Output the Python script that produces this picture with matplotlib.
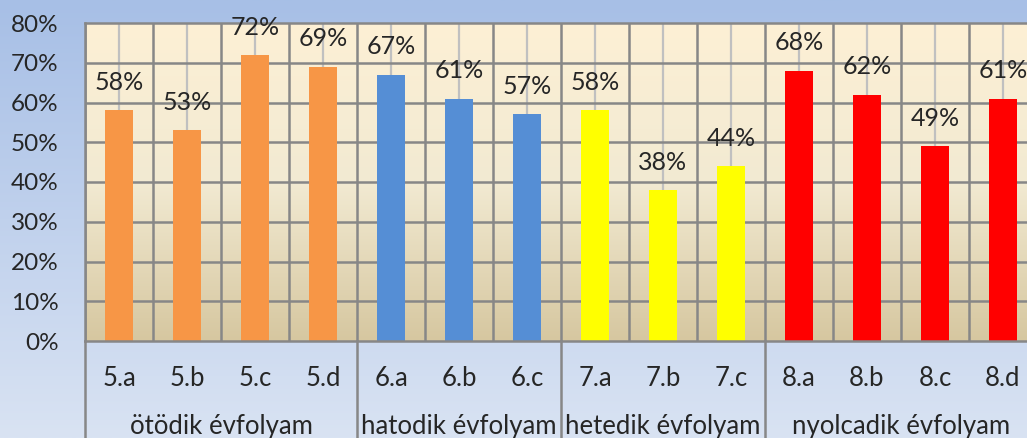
import numpy as np
import matplotlib.pyplot as plt
from matplotlib.colors import LinearSegmentedColormap
import matplotlib.transforms as mtransforms

plt.rcParams['font.family'] = ['Lato', 'DejaVu Sans']

classes = ['5.a', '5.b', '5.c', '5.d', '6.a', '6.b', '6.c',
           '7.a', '7.b', '7.c', '8.a', '8.b', '8.c', '8.d']
values = [58, 53, 72, 69, 67, 61, 57, 58, 38, 44, 68, 62, 49, 61]
groups = ['ötödik évfolyam', 'hatodik évfolyam', 'hetedik évfolyam', 'nyolcadik évfolyam']
group_sizes = [4, 3, 3, 4]
group_colors = ['#f79646', '#558ed5', '#ffff00', '#ff0000']

W, H = 1027, 438
fig = plt.figure(figsize=(W / 100, H / 100), dpi=100)

# figure background gradient (blue)
bg = fig.add_axes([0, 0, 1, 1], zorder=-10)
bg_cmap = LinearSegmentedColormap.from_list('bg', ['#a7bfe6', '#d9e3f3'])
bg.imshow(np.linspace(0, 1, 256).reshape(-1, 1), aspect='auto', cmap=bg_cmap,
          extent=[0, 1, 0, 1], origin='upper')
bg.axis('off')

# plot area
left, right, top, bottom = 85, 1037, 23, 341
ax = fig.add_axes([left / W, (H - bottom) / H, (right - left) / W, (bottom - top) / H])
n = len(classes)
x = np.arange(n)
ax.set_xlim(-0.5, n - 0.5)
ax.set_ylim(0, 80)

pa_cmap = LinearSegmentedColormap.from_list('pa', ['#d6c7a0', '#f2ead2', '#fdf0d5'])
ax.imshow(np.linspace(0, 1, 256).reshape(-1, 1), aspect='auto', cmap=pa_cmap,
          extent=[-0.5, n - 0.5, 0, 80], origin='lower', zorder=0)

bar_colors = []
for c, s in zip(group_colors, group_sizes):
    bar_colors += [c] * s

# light gray lines through bar centres
ax.vlines(x, 0, 80, color='#c0c0c0', lw=1.6, zorder=1)
# dark grid
for yv in range(10, 80, 10):
    ax.axhline(yv, color='#878787', lw=1.8, zorder=1)
for xv in np.arange(-0.5, n, 1.0):
    ax.axvline(xv, color='#878787', lw=1.8, zorder=1)

ax.bar(x, values, width=0.42, color=bar_colors, zorder=2)

for xi, v in zip(x, values):
    ax.annotate(f'{v}%', (xi, v), xytext=(0, 20), textcoords='offset points',
                ha='center', va='center', fontsize=18, color='#262626',
                zorder=3, annotation_clip=False)

for s in ax.spines.values():
    s.set_color('#878787')
    s.set_linewidth(1.8)

ax.set_yticks(range(0, 81, 10))
ax.set_yticklabels([f'{v}%' for v in range(0, 81, 10)], fontsize=17.5, color='#262626')
ax.tick_params(axis='y', length=0, pad=19)
ax.set_xticks([])

trans = mtransforms.blended_transform_factory(ax.transData, ax.transAxes)
for xi, lab in zip(x, classes):
    ax.text(xi, -0.118, lab, transform=trans, ha='center', va='center',
            fontsize=18.5, color='#262626')

start = 0
for g, s in zip(groups, group_sizes):
    mid = start + (s - 1) / 2
    ax.text(mid, -0.268, g, transform=trans, ha='center', va='center',
            fontsize=18.5, color='#262626', clip_on=False)
    ax.plot([start - 0.5, start - 0.5], [0, -0.35], transform=trans,
            color='#878787', lw=1.8, clip_on=False)
    start += s

fig.savefig('out.png', dpi=100)
